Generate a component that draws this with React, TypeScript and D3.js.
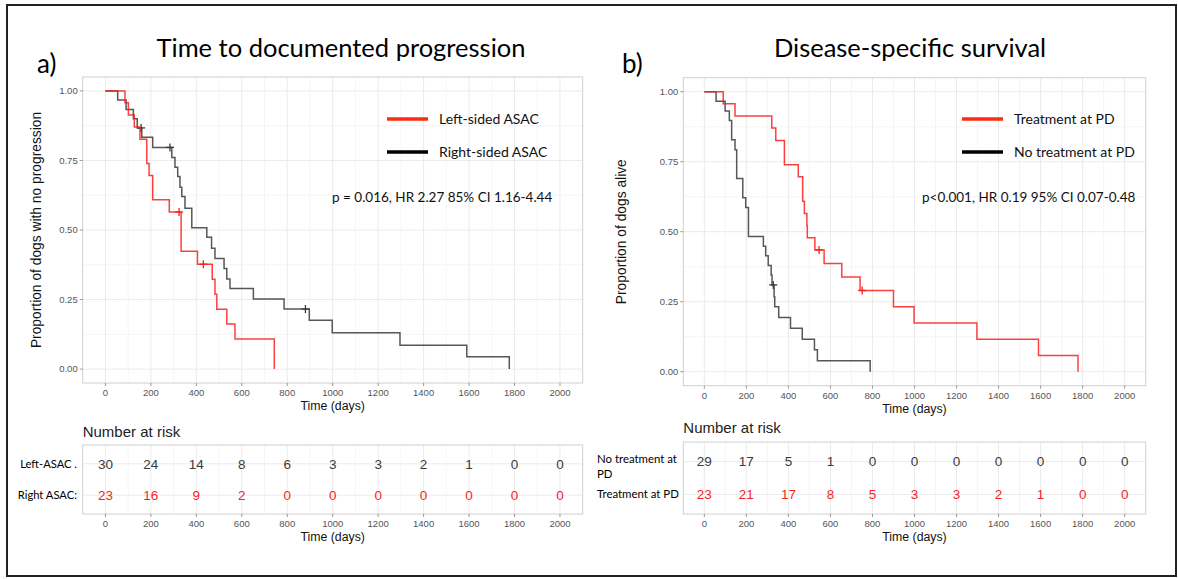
import React from "react";
import * as d3 from "d3";

// ---------- DATA ----------
const xTickValues = [0, 200, 400, 600, 800, 1000, 1200, 1400, 1600, 1800, 2000];
const yTickValues = [0, 0.25, 0.5, 0.75, 1];
const yTickLabels = ["0.00", "0.25", "0.50", "0.75", "1.00"];

// Panel a) Time to documented progression
const aRedTimes = [0, 86, 101, 127, 152, 182, 192, 208, 281, 333, 405, 470, 482, 490, 534, 570, 743];
const aRedSurv = [1, 0.957, 0.913, 0.87, 0.826, 0.739, 0.696, 0.609, 0.565, 0.424, 0.377, 0.323, 0.269, 0.215, 0.162, 0.108, 0];
const aRedCensorT = [324, 431];
const aRedCensorS = [0.565, 0.377];

const aBlackTimes = [0, 54, 91, 123, 140, 160, 208, 292, 306, 318, 328, 336, 350, 380, 446, 467, 482, 522, 534, 548, 651, 786, 897, 998, 1296, 1590, 1777];
const aBlackSurv = [1, 0.967, 0.933, 0.9, 0.867, 0.833, 0.797, 0.761, 0.726, 0.692, 0.654, 0.62, 0.578, 0.508, 0.474, 0.434, 0.398, 0.362, 0.324, 0.29, 0.252, 0.216, 0.176, 0.131, 0.086, 0.044, 0];
const aBlackCensorT = [157, 284, 880];
const aBlackCensorS = [0.867, 0.797, 0.216];

const aLegend = ["Left-sided ASAC", "Right-sided ASAC"];
const aStat = "p = 0.016, HR 2.27 85% CI 1.16-4.44";
const aRiskRows = ["Left-ASAC .", "Right ASAC:"];
const aRiskTop = [30, 24, 14, 8, 6, 3, 3, 2, 1, 0, 0];
const aRiskBottom = [23, 16, 9, 2, 0, 0, 0, 0, 0, 0, 0];

// Panel b) Disease-specific survival
const bRedTimes = [0, 90, 146, 321, 340, 381, 447, 468, 476, 488, 490, 526, 570, 654, 741, 900, 998, 1297, 1590, 1778];
const bRedSurv = [1, 0.957, 0.913, 0.87, 0.826, 0.739, 0.696, 0.609, 0.565, 0.522, 0.478, 0.435, 0.386, 0.338, 0.29, 0.232, 0.174, 0.116, 0.058, 0];
const bRedCensorT = [546, 751];
const bRedCensorS = [0.435, 0.29];

const bBlackTimes = [0, 56, 99, 119, 130, 146, 154, 183, 197, 210, 281, 292, 304, 318, 322, 332, 335, 354, 410, 466, 524, 538, 789];
const bBlackSurv = [1, 0.966, 0.931, 0.897, 0.828, 0.793, 0.69, 0.621, 0.586, 0.483, 0.448, 0.414, 0.379, 0.345, 0.31, 0.268, 0.232, 0.194, 0.155, 0.116, 0.078, 0.039, 0];
const bBlackCensorT = [328];
const bBlackCensorS = [0.31];

const bLegend = ["Treatment at PD", "No treatment at PD"];
const bStat = "p<0.001, HR 0.19 95% CI 0.07-0.48";
const bRiskRows = ["No treatment at|PD", "Treatment at PD"];
const bRiskTop = [29, 17, 5, 1, 0, 0, 0, 0, 0, 0, 0];
const bRiskBottom = [23, 21, 17, 8, 5, 3, 3, 2, 1, 0, 0];

// ---------- STYLE ----------
const RED = "#fa1e1e";
const DARK = "#3a3a3a";
const LEG_RED = "#ff2a12";
const GRID = "#ebebeb";
const GRID_MINOR = "#f3f3f3";
const BORDER = "#d0d0d0";
const AXIS_TXT = "#555";
const CAL = "Lato, 'Open Sans', sans-serif";
const ARIAL = "'Liberation Sans', Arial, sans-serif";

type PanelProps = {
  letter: string;
  title: string;
  titleX: number;
  letterX: number;
  yTitle: string;
  yTitleX: number;
  yTitleSize: number;
  left: number;
  right: number;
  top: number;
  bottom: number;
  red: { t: number[]; s: number[]; ct: number[]; cs: number[] };
  black: { t: number[]; s: number[]; ct: number[]; cs: number[] };
  legend: string[];
  legendX: number;
  stat: string;
  statX: number;
  riskRows: string[];
  riskTop: number[];
  riskBottom: number[];
  tableTop: number;
  tableBottom: number;
  riskLabelMode: "right" | "left";
  riskLabelX: number;
  riskLabelSize: number;
  riskTitleY: number;
};

function Panel(p: PanelProps) {
  const x = d3.scaleLinear().domain([-100, 2100]).range([p.left, p.right]);
  const y = d3.scaleLinear().domain([-0.05, 1.05]).range([p.bottom, p.top]);
  const line = d3
    .line<[number, number]>()
    .x((d) => x(d[0]))
    .y((d) => y(d[1]))
    .curve(d3.curveStepAfter);
  const minorX = d3.range(100, 2000, 200);
  const minorY = [0.125, 0.375, 0.625, 0.875];

  const ty = d3
    .scalePoint<string>()
    .domain(["top", "bottom"])
    .range([p.tableTop, p.tableBottom])
    .padding(0.6);

  const curve = (c: PanelProps["red"], color: string) => {
    const pts = c.t.map((t, i) => [t, c.s[i]] as [number, number]);
    return (
      <g>
        <path d={line(pts) || ""} fill="none" stroke={color} strokeWidth={1.5} strokeOpacity={0.85} />
        {c.ct.map((t, i) => (
          <g key={i} stroke={color} strokeWidth={1.3}>
            <line x1={x(t) - 4} x2={x(t) + 4} y1={y(c.cs[i])} y2={y(c.cs[i])} />
            <line x1={x(t)} x2={x(t)} y1={y(c.cs[i]) - 4} y2={y(c.cs[i]) + 4} />
          </g>
        ))}
      </g>
    );
  };

  const midX = (p.left + p.right) / 2;
  const tickTextY = p.bottom + 13;

  return (
    <g>
      {/* titles */}
      <text x={p.titleX} y={57} fontFamily={CAL} fontSize={25.5} textAnchor="middle" fill="#000">
        {p.title}
      </text>
      <text x={p.letterX} y={73} fontFamily={CAL} fontSize={26} fill="#000">
        {p.letter}
      </text>

      {/* grid */}
      <rect x={p.left} y={p.top} width={p.right - p.left} height={p.bottom - p.top} fill="#fff" />
      {minorX.map((v) => (
        <line key={"mx" + v} x1={x(v)} x2={x(v)} y1={p.top} y2={p.bottom} stroke={GRID_MINOR} strokeWidth={0.8} />
      ))}
      {minorY.map((v) => (
        <line key={"my" + v} x1={p.left} x2={p.right} y1={y(v)} y2={y(v)} stroke={GRID_MINOR} strokeWidth={0.8} />
      ))}
      {xTickValues.map((v) => (
        <line key={"gx" + v} x1={x(v)} x2={x(v)} y1={p.top} y2={p.bottom} stroke={GRID} strokeWidth={1} />
      ))}
      {yTickValues.map((v) => (
        <line key={"gy" + v} x1={p.left} x2={p.right} y1={y(v)} y2={y(v)} stroke={GRID} strokeWidth={1} />
      ))}
      <rect x={p.left} y={p.top} width={p.right - p.left} height={p.bottom - p.top} fill="none" stroke={BORDER} strokeWidth={1} />

      {/* axes */}
      {yTickValues.map((v, i) => (
        <g key={"yt" + v}>
          <line x1={p.left - 3} x2={p.left} y1={y(v)} y2={y(v)} stroke="#999" />
          <text x={p.left - 5} y={y(v)} dy="0.35em" textAnchor="end" fontFamily={ARIAL} fontSize={9.5} fill={AXIS_TXT}>
            {yTickLabels[i]}
          </text>
        </g>
      ))}
      {xTickValues.map((v) => (
        <g key={"xt" + v}>
          <line x1={x(v)} x2={x(v)} y1={p.bottom} y2={p.bottom + 3} stroke="#999" />
          <text x={x(v)} y={tickTextY} textAnchor="middle" fontFamily={ARIAL} fontSize={9.5} fill={AXIS_TXT}>
            {v}
          </text>
        </g>
      ))}
      <text x={midX} y={p.bottom + 27} textAnchor="middle" fontFamily={ARIAL} fontSize={12.3} fill="#111">
        Time (days)
      </text>
      <text
        transform={`translate(${p.yTitleX},${(p.top + p.bottom) / 2}) rotate(-90)`}
        textAnchor="middle"
        dy="0.35em"
        fontFamily={ARIAL}
        fontSize={p.yTitleSize}
        fill="#111"
      >
        {p.yTitle}
      </text>

      {/* curves */}
      {curve(p.black, DARK)}
      {curve(p.red, RED)}

      {/* legend */}
      <line x1={p.legendX} x2={p.legendX + 41} y1={119} y2={119} stroke={LEG_RED} strokeWidth={3.5} />
      <text x={p.legendX + 52} y={119} dy="0.35em" fontFamily={CAL} fontSize={14} fill="#111">
        {p.legend[0]}
      </text>
      <line x1={p.legendX} x2={p.legendX + 41} y1={152} y2={152} stroke="#000" strokeWidth={3.5} />
      <text x={p.legendX + 52} y={152} dy="0.35em" fontFamily={CAL} fontSize={14} fill="#111">
        {p.legend[1]}
      </text>
      <text x={p.statX} y={197} dy="0.35em" fontFamily={CAL} fontSize={13.5} fill="#111">
        {p.stat}
      </text>

      {/* risk table */}
      <text x={p.left} y={p.riskTitleY} dy="0.35em" fontFamily={ARIAL} fontSize={15} fill="#222">
        Number at risk
      </text>
      <rect x={p.left} y={p.tableTop} width={p.right - p.left} height={p.tableBottom - p.tableTop} fill="#fff" />
      {minorX.map((v) => (
        <line key={"tmx" + v} x1={x(v)} x2={x(v)} y1={p.tableTop} y2={p.tableBottom} stroke={GRID_MINOR} strokeWidth={0.8} />
      ))}
      {xTickValues.map((v) => (
        <line key={"tgx" + v} x1={x(v)} x2={x(v)} y1={p.tableTop} y2={p.tableBottom} stroke={GRID} strokeWidth={1} />
      ))}
      {["top", "bottom"].map((r) => (
        <line key={"tgy" + r} x1={p.left} x2={p.right} y1={ty(r)} y2={ty(r)} stroke={GRID} strokeWidth={1} />
      ))}
      <rect x={p.left} y={p.tableTop} width={p.right - p.left} height={p.tableBottom - p.tableTop} fill="none" stroke={BORDER} strokeWidth={1} />
      {xTickValues.map((v, i) => (
        <g key={"rk" + v}>
          <text x={x(v)} y={ty("top")} dy="0.36em" textAnchor="middle" fontFamily={ARIAL} fontSize={13.5} fill={DARK}>
            {p.riskTop[i]}
          </text>
          <text x={x(v)} y={ty("bottom")} dy="0.36em" textAnchor="middle" fontFamily={ARIAL} fontSize={13.5} fill={RED}>
            {p.riskBottom[i]}
          </text>
          <line x1={x(v)} x2={x(v)} y1={p.tableBottom} y2={p.tableBottom + 3} stroke="#999" />
          <text x={x(v)} y={p.tableBottom + 13} textAnchor="middle" fontFamily={ARIAL} fontSize={9.5} fill={AXIS_TXT}>
            {v}
          </text>
        </g>
      ))}
      <text x={midX} y={p.tableBottom + 27} textAnchor="middle" fontFamily={ARIAL} fontSize={12.3} fill="#111">
        Time (days)
      </text>
      {p.riskRows.map((r, i) => {
        const yy = ty(i === 0 ? "top" : "bottom") as number;
        const parts = r.split("|");
        if (parts.length > 1) {
          return (
            <text key={r} fontFamily={CAL} fontSize={p.riskLabelSize} fill="#000">
              <tspan x={p.riskLabelX} y={yy + 1}>{parts[0]}</tspan>
              <tspan x={p.riskLabelX} y={yy + 16}>{parts[1]}</tspan>
            </text>
          );
        }
        return (
          <text
            key={r}
            x={p.riskLabelX}
            y={yy}
            dy="0.35em"
            textAnchor={p.riskLabelMode === "right" ? "end" : "start"}
            fontFamily={CAL}
            fontSize={p.riskLabelSize}
            fill="#000"
          >
            {r}
          </text>
        );
      })}
    </g>
  );
}

export default function App() {
  return (
    <svg
      width={1178}
      height={579}
      style={{ position: "absolute", left: 0, top: 0, background: "#fff" }}
    >
      <rect x={0} y={0} width={1178} height={579} fill="#fff" />
      <rect x={7} y={5} width={1169} height={571} fill="none" stroke="#222" strokeWidth={2} />
      <Panel
        letter="a)"
        title="Time to documented progression"
        titleX={341}
        letterX={37}
        yTitle="Proportion of dogs with no progression"
        yTitleX={36}
        yTitleSize={13.8}
        left={82.7}
        right={582.7}
        top={77}
        bottom={383}
        red={{ t: aRedTimes, s: aRedSurv, ct: aRedCensorT, cs: aRedCensorS }}
        black={{ t: aBlackTimes, s: aBlackSurv, ct: aBlackCensorT, cs: aBlackCensorS }}
        legend={aLegend}
        legendX={387}
        stat={aStat}
        statX={332}
        riskRows={aRiskRows}
        riskTop={aRiskTop}
        riskBottom={aRiskBottom}
        tableTop={445}
        tableBottom={514}
        riskLabelMode="right"
        riskLabelX={77}
        riskLabelSize={11.2}
        riskTitleY={432}
      />
      <Panel
        letter="b)"
        title="Disease-specific survival"
        titleX={910}
        letterX={622}
        yTitle="Proportion of dogs alive"
        yTitleX={621}
        yTitleSize={13.8}
        left={683.3}
        right={1145.7}
        top={77.7}
        bottom={385.7}
        red={{ t: bRedTimes, s: bRedSurv, ct: bRedCensorT, cs: bRedCensorS }}
        black={{ t: bBlackTimes, s: bBlackSurv, ct: bBlackCensorT, cs: bBlackCensorS }}
        legend={bLegend}
        legendX={962}
        stat={bStat}
        statX={922}
        riskRows={bRiskRows}
        riskTop={bRiskTop}
        riskBottom={bRiskBottom}
        tableTop={442}
        tableBottom={514}
        riskLabelMode="left"
        riskLabelX={597}
        riskLabelSize={11.4}
        riskTitleY={428}
      />
    </svg>
  );
}
